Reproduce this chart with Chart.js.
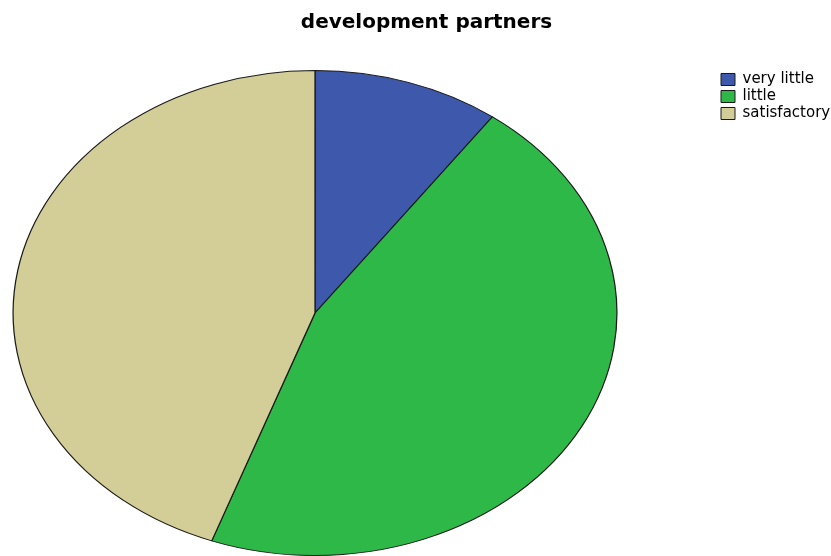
<!DOCTYPE html>
<html>
<head>
<meta charset="utf-8">
<script src="https://cdn.jsdelivr.net/npm/chart.js@4"></script>
<style>
  body { margin: 0; background: #fff; }
</style>
</head>
<body>
<canvas id="myChart" width="831" height="556"></canvas>
<script>
const ctx = document.getElementById('myChart').getContext('2d');

const titulo = 'development partners'
const etiquetas = ['very little', 'little', 'satisfactory']
const valores = [9, 41, 40]
const colores = ['#3e58ac', '#2eb848', '#d3ce97']

// la torta de SPSS es una elipse, se estira en x
const estirar = 1.245

const elipse = {
    id: 'elipse',
    beforeDatasetsDraw(chart) {
        const a = chart.chartArea
        const cx = (a.left + a.right) / 2
        chart.ctx.save()
        chart.ctx.translate(cx, 0)
        chart.ctx.scale(estirar, 1)
        chart.ctx.translate(-cx, 0)
    },
    afterDatasetsDraw(chart) {
        chart.ctx.restore()
    }
}

// mover titulo y leyenda a donde estan en la imagen
const acomodar = {
    id: 'acomodar',
    afterLayout(chart) {
        const t = chart.titleBlock
        t.left = 22
        t.right = 831
        t.width = t.right - t.left

        const l = chart.legend
        l.left = 719
        l.top = 70
        l.right = 831
        l.bottom = 132
    }
}

const render = new Chart(ctx, {
    type: 'pie',
    data: {
        labels: etiquetas,
        datasets: [{
            data: valores,
            backgroundColor: colores,
            borderColor: '#1a1a1a',
            borderWidth: 1
        }]
    },
    options: {
        responsive: false,
        animation: false,
        layout: {
            padding: { left: 12, right: 213, top: 0, bottom: 0 }
        },
        plugins: {
            title: {
                display: true,
                text: titulo,
                color: '#000',
                font: { family: 'DejaVu Sans', size: 20, weight: 'bold' },
                padding: { top: 11, bottom: 35 }
            },
            legend: {
                position: 'chartArea',
                align: 'start',
                labels: {
                    boxWidth: 14,
                    boxHeight: 12,
                    padding: 2,
                    color: '#000',
                    font: { family: 'DejaVu Sans', size: 15 }
                }
            },
            tooltip: { enabled: false }
        }
    },
    plugins: [elipse, acomodar]
});
</script>
</body>
</html>
